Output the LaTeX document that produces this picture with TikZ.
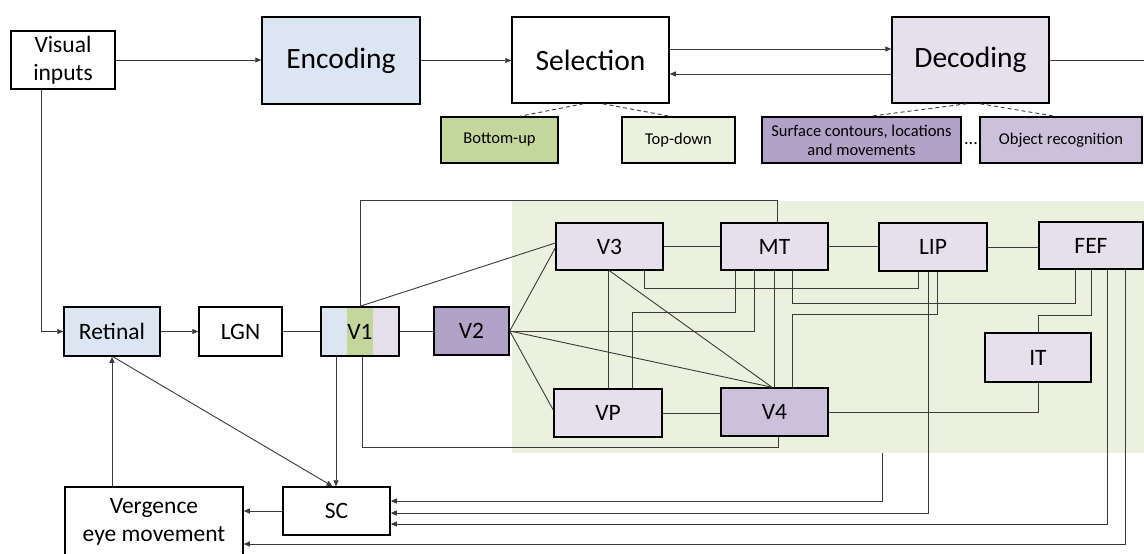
\documentclass[tikz,border=0pt]{standalone}
\usepackage{fontspec}
\setmainfont{Carlito}
\usetikzlibrary{arrows.meta,calc}
\definecolor{encblue}{HTML}{DCE6F2}
\definecolor{lightpur}{HTML}{E6E0EC}
\definecolor{midpur}{HTML}{CCC1DA}
\definecolor{darkpur}{HTML}{B3A2C7}
\definecolor{bugreen}{HTML}{C3D69B}
\definecolor{palegreen}{HTML}{EBF1DE}
\definecolor{linegray}{HTML}{3A3A3A}
\begin{document}
\begin{tikzpicture}[x=1pt,y=-1pt,
  box/.style={draw=black, line width=1.5pt, rectangle, inner sep=0pt, align=center},
  bigbox/.style={box, font=\fontsize{29.5}{34}\selectfont},
  midbox/.style={box, font=\fontsize{23.5}{28}\selectfont},
  smallbox/.style={box, font=\fontsize{16.5}{19}\selectfont},
  conn/.style={draw=linegray, line width=0.9pt},
  arr/.style={conn, -{Triangle[length=6pt,width=5pt]}},
  dashconn/.style={draw=linegray, line width=0.9pt, dash pattern=on 4pt off 3pt},
]
\useasboundingbox (0,0) rectangle (1144,554);
\clip (0,0) rectangle (1144,554);
\fill[white] (0,0) rectangle (1144,554);

% green area
\node[fill=palegreen, minimum width=632pt, minimum height=252pt, inner sep=0pt] (area) at (828,327) {};

% top row
\node[midbox, minimum width=104pt, minimum height=58pt] (vis) at (63,60) {Visual\\inputs};
\node[bigbox, fill=encblue, minimum width=158pt, minimum height=87pt] (enc) at (341,60.5) {Encoding};
\node[bigbox, fill=white, minimum width=157pt, minimum height=86pt] (sel) at (590.5,60) {Selection};
\node[bigbox, fill=lightpur, minimum width=157pt, minimum height=86pt] (dec) at (970.5,60) {Decoding};
\coordinate (edge) at (1144,60);

\node[smallbox, fill=bugreen, minimum width=117pt, minimum height=46pt] (bu) at (499.5,140) {Bottom-up};
\node[smallbox, fill=palegreen, minimum width=113pt, minimum height=46pt] (td) at (678.5,140) {Top-down};
\node[smallbox, fill=darkpur, minimum width=199pt, minimum height=46pt] (surf) at (861.5,140) {Surface contours, locations\\and movements};
\node[smallbox, fill=midpur, minimum width=162pt, minimum height=46pt] (obj) at (1061,140) {Object recognition};
\node[anchor=base, font=\fontsize{18}{20}\selectfont, inner sep=0pt] (dots) at (971,144) {...};

% lower network
\node[midbox, fill=encblue, minimum width=96pt, minimum height=49pt] (ret) at (112,331.5) {Retinal};
\node[midbox, fill=white, minimum width=83pt, minimum height=49pt] (lgn) at (240.5,331.5) {LGN};
\node[midbox, minimum width=78pt, minimum height=49pt, path picture={
  \fill[encblue] (path picture bounding box.south west) rectangle ([xshift=-13pt]path picture bounding box.north);
  \fill[bugreen] ([xshift=-13pt]path picture bounding box.south) rectangle ([xshift=13pt]path picture bounding box.north);
  \fill[lightpur] ([xshift=13pt]path picture bounding box.south) rectangle (path picture bounding box.north east);
}] (v1) at (360,331.5) {V1};
\node[midbox, fill=darkpur, minimum width=75pt, minimum height=48pt] (v2) at (471.5,331) {V2};
\node[midbox, fill=lightpur, minimum width=107pt, minimum height=47pt] (v3) at (609.5,246.5) {V3};
\node[midbox, fill=lightpur, minimum width=107pt, minimum height=47pt] (mt) at (774.5,246.5) {MT};
\node[midbox, fill=lightpur, minimum width=108pt, minimum height=48pt] (lip) at (933,247) {LIP};
\node[midbox, fill=lightpur, minimum width=104pt, minimum height=47pt] (fef) at (1091,245.5) {FEF};
\node[midbox, fill=lightpur, minimum width=106pt, minimum height=49pt] (it) at (1038,357.5) {IT};
\node[midbox, fill=lightpur, minimum width=108pt, minimum height=48pt] (vp) at (608,413) {VP};
\node[midbox, fill=midpur, minimum width=107pt, minimum height=48pt] (v4) at (774.5,412) {V4};
\node[midbox, fill=white, minimum width=107pt, minimum height=48pt] (sc) at (336.5,511) {SC};
\node[midbox, fill=white, minimum width=178pt, minimum height=70pt] (verg) at (154,522) {Vergence\\eye movement};

% top connectors
\draw[arr] (vis.east) -- (vis.east -| enc.west);
\draw[arr] (enc.east) -- (enc.east -| sel.west);
\draw[arr] ([yshift=11pt]sel.east) -- ([yshift=11pt]sel.east -| dec.west);
\draw[arr] ([yshift=-14pt]dec.west) -- ([yshift=-14pt]dec.west -| sel.east);
\draw[conn] (dec.east) -- (edge);
\draw[dashconn] ([xshift=-7pt]sel.south) -- ([xshift=20.5pt]bu.north);
\draw[dashconn] ([xshift=12pt]sel.south) -- ([xshift=-8.5pt]td.north);
\draw[dashconn] ([xshift=-3.5pt]dec.south) -- ([xshift=8.5pt]surf.north);
\draw[dashconn] ([xshift=9.5pt]dec.south) -- ([xshift=-6pt]obj.north);

% pathway
\draw[arr] ([xshift=-22pt]vis.south) |- (ret.west);
\draw[arr] (ret.east) -- (ret.east -| lgn.west);
\draw[conn] (lgn.east) -- (lgn.east -| v1.west);
\draw[conn] (v1.east) -- (v1.east -| v2.west);
\draw[conn] (v1.north) -- ++(0,-106) -| ([xshift=2.5pt]mt.north);
\draw[conn] (v1.north) -- ([yshift=3.5pt]v3.west);
\draw[conn] ([xshift=2pt]v1.south) -- ++(0,91) -| ([xshift=3.5pt]v4.south);
\draw[arr] ([xshift=-24pt]v1.south) -- ([xshift=-24pt]v1.south |- sc.north);
\draw[arr] ([xshift=1pt]ret.south) -- ([xshift=-4pt]sc.north);
\draw[arr] ([xshift=-42pt]verg.north) -- ([xshift=-42pt]verg.north |- ret.south);
\draw[arr] (sc.west) -- (sc.west -| verg.east);
\draw[arr] ([xshift=54pt]area.south) |- ([yshift=10pt]sc.east);
\draw[arr] ([xshift=-5pt]lip.south) |- ([yshift=-2pt]sc.east);
\draw[arr] ([xshift=16pt]fef.south) |- ([yshift=-13pt]sc.east);
\draw[arr] ([xshift=34pt]fef.south) |- ([yshift=-22pt]verg.east);

% network
\draw[conn] (v2.east) -- ([yshift=-1.5pt]v3.west);
\draw[conn] (v2.east) -- ([yshift=3pt]vp.west);
\draw[conn] (v2.east) -| ([xshift=-20.5pt]mt.south);
\draw[conn] (v2.east) -- ([xshift=-2.5pt]v4.north);
\draw[conn] (v3.south) -- ([xshift=-2.5pt]v4.north);
\draw[conn] (vp.north) -- (vp.north |- v3.south);
\draw[conn] (v3.east) -- (v3.east -| mt.west);
\draw[conn] ([xshift=34.5pt]v3.south) -- ++(0,18) -| ([xshift=-15pt]lip.south);
\draw[conn] ([xshift=-39.5pt]mt.south) -- ++(0,42) -| ([xshift=24pt]vp.north);
\draw[conn] (mt.south) -- (mt.south |- v4.north);
\draw[conn] ([xshift=17.5pt]mt.south) -- ++(0,33) -| ([xshift=-16pt]fef.south);
\draw[conn] ([xshift=17.5pt]v4.north) -- ++(0,-73) -| ([xshift=4pt]lip.south);
\draw[conn] (fef.south) -- ++(0,46) -| (it.north);
\draw[conn] (it.south) |- (v4.east);
\draw[conn] (vp.east) -- (vp.east -| v4.west);
\draw[conn] (mt.east) -- (mt.east -| lip.west);
\draw[conn] (lip.east) -- (lip.east -| fef.west);
\end{tikzpicture}
\end{document}
